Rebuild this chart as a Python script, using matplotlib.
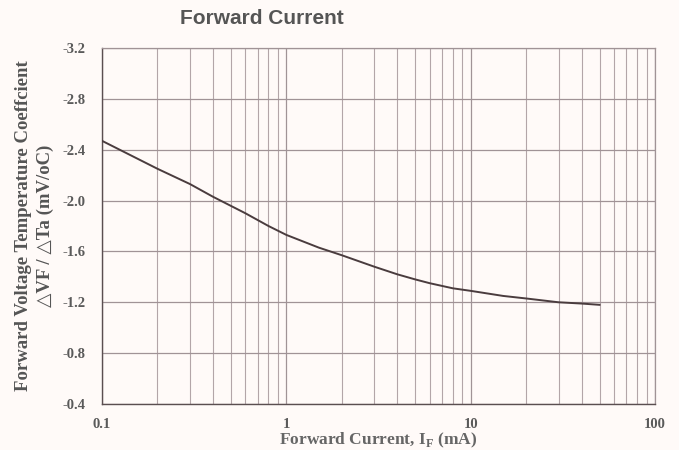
import numpy as np
import matplotlib.pyplot as plt
from matplotlib.ticker import FixedLocator, NullFormatter

# values
current_ma = [0.1, 0.2, 0.3, 0.4, 0.6, 0.8, 1, 1.5, 2, 3, 4, 5, 6, 8, 10,
              15, 20, 30, 40, 50]
temp_coeff = [-2.47, -2.25, -2.13, -2.03, -1.90, -1.80, -1.73, -1.63, -1.57,
              -1.48, -1.42, -1.38, -1.35, -1.31, -1.29, -1.25, -1.23, -1.20,
              -1.19, -1.18]
y_ticks = [-3.2, -2.8, -2.4, -2.0, -1.6, -1.2, -0.8, -0.4]
x_ticks = [0.1, 1, 10, 100]
x_labels = ['0.1', '1', '10', '100']

bg = '#fffaf8'
grid_col = '#a09396'
minor_col = '#b3a5a8'
text_col = '#5a5a5a'
serif = ['Liberation Serif', 'DejaVu Serif']

fig = plt.figure(figsize=(6.79, 4.5), dpi=100, facecolor=bg)
ax = fig.add_axes([102 / 679, 1 - 404 / 450, (655 - 102) / 679, (404 - 48) / 450])
ax.set_facecolor(bg)

ax.plot(current_ma, temp_coeff, color='#4a3c3e', linewidth=1.4, zorder=3)

ax.set_xscale('log')
ax.set_xlim(0.1, 100)
ax.set_ylim(-0.4, -3.2)

ax.xaxis.set_major_locator(FixedLocator(x_ticks))
minors = [m * d for d in (0.1, 1, 10) for m in range(2, 10)]
ax.xaxis.set_minor_locator(FixedLocator(minors))
ax.xaxis.set_minor_formatter(NullFormatter())
ax.set_xticklabels(x_labels)
ax.set_yticks(y_ticks)
ax.set_yticklabels([f'{v:.1f}' for v in y_ticks])

ax.grid(True, which='major', color=grid_col, linewidth=0.9)
ax.grid(True, which='minor', axis='x', color=minor_col, linewidth=0.8)
ax.tick_params(which='both', length=0)
ax.tick_params(axis='x', pad=10)
ax.tick_params(axis='y', pad=12)
for lbl in ax.get_xticklabels() + ax.get_yticklabels():
    lbl.set_family(serif)
    lbl.set_fontweight('bold')
    lbl.set_fontsize(10.5)
    lbl.set_color(text_col)

for side in ('top', 'right'):
    ax.spines[side].set_color(grid_col)
    ax.spines[side].set_linewidth(0.9)
for side in ('left', 'bottom'):
    ax.spines[side].set_color('#5a4e50')
    ax.spines[side].set_linewidth(1.0)

ax.set_xlabel('Forward Current, I$_\\mathregular{F}$ (mA)', family=serif,
              fontweight='bold', fontsize=12.5, color='#666666', labelpad=0)
ax.set_ylabel('Forward Voltage Temperature Coeffcient\n\u25b3VF / \u25b3Ta (mV/oC)',
              family=serif, fontweight='bold', fontsize=13.5, color='#555555',
              labelpad=6, linespacing=1.35)

fig.text(262 / 679, 1 - 18 / 450, 'Forward Current', ha='center', va='center',
         fontsize=15, fontweight='bold', color='#555555', family='Liberation Sans')

fig.savefig('out.png', dpi=100, facecolor=bg)
